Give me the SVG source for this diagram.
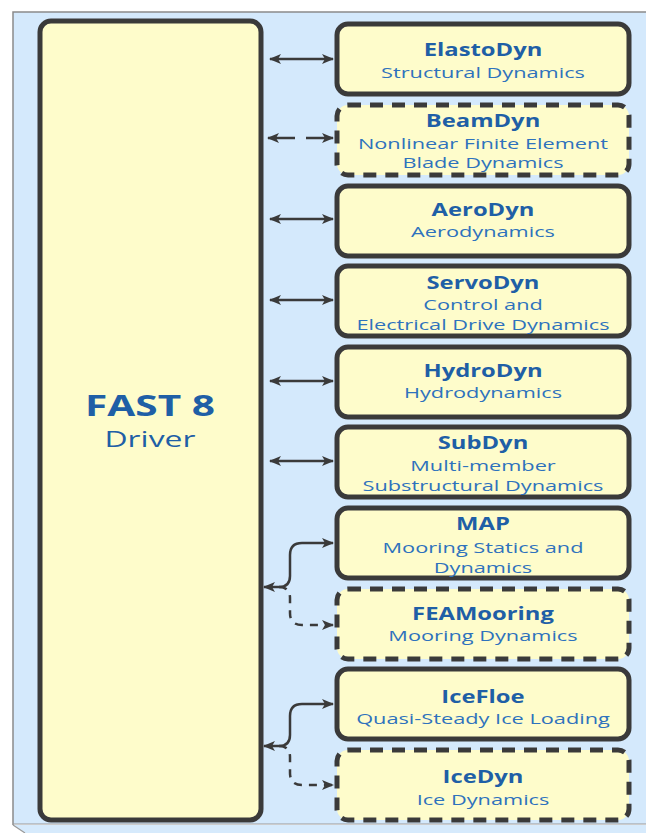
<svg xmlns="http://www.w3.org/2000/svg" width="646" height="833" viewBox="0 0 646 833">
<defs>
<style>
.box{fill:#fefccb;stroke:#3a3a3a;stroke-width:5}
.dash{stroke-dasharray:13 9}
.t{font-family:"Open Sans","Noto Sans",sans-serif;font-weight:bold;font-size:17px;fill:#1f5fa6;text-anchor:middle}
.s{font-family:"Open Sans","Noto Sans",sans-serif;font-size:14.5px;fill:#2e72bd;text-anchor:middle}
.c{fill:none;stroke:#3a3a3a;stroke-width:2.5}
.cd{stroke-dasharray:8 7}
</style>
<marker id="ah" viewBox="0 0 12 10" refX="11" refY="5" markerWidth="12" markerHeight="10" markerUnits="userSpaceOnUse" orient="auto-start-reverse">
<path d="M0,0 L12,5 L0,10 L3,5 z" fill="#3a3a3a"/>
</marker>
</defs>
<rect x="0" y="0" width="646" height="833" fill="#ffffff"/>
<g id="panel">
<polygon points="13,825 646,825 646,833 25,833" fill="#d6eafc"/>
<rect x="13" y="12" width="640" height="812" fill="#d4e9fc"/>
<path d="M13,825 V12 H646" fill="none" stroke="#8a8a8a" stroke-width="1.5"/>
<path d="M13,824 H646 M13,825 L25,833" fill="none" stroke="#9a9a9a" stroke-width="1.2"/>
</g>
<g id="fast">
<rect class="box" x="40" y="21" width="221" height="799" rx="11"/>
<g transform="translate(150,0) scale(1.45,1)">
<text x="0" y="416" font-family="'Open Sans','Noto Sans',sans-serif" font-weight="bold" font-size="28" fill="#1f5fa6" text-anchor="middle">FAST 8</text>
<text x="0" y="447" font-family="'Open Sans','Noto Sans',sans-serif" font-size="22" fill="#1f5fa6" text-anchor="middle">Driver</text>
</g>
</g>
<g id="elastodyn">
<rect class="box" x="337" y="24" width="292" height="70" rx="11"/>
<text class="t" transform="translate(483,0) scale(1.4,1)" x="0" y="56">ElastoDyn</text>
<text class="s" transform="translate(483,0) scale(1.5,1)" x="0" y="78">Structural Dynamics</text>
</g>
<g id="beamdyn">
<rect class="box dash" x="337" y="105" width="292" height="70" rx="11"/>
<text class="t" transform="translate(483,0) scale(1.4,1)" x="0" y="127">BeamDyn</text>
<text class="s" transform="translate(483,0) scale(1.5,1)" x="0" y="149">Nonlinear Finite Element</text>
<text class="s" transform="translate(483,0) scale(1.5,1)" x="0" y="168">Blade Dynamics</text>
</g>
<g id="aerodyn">
<rect class="box" x="337" y="186" width="292" height="70" rx="11"/>
<text class="t" transform="translate(483,0) scale(1.4,1)" x="0" y="216">AeroDyn</text>
<text class="s" transform="translate(483,0) scale(1.5,1)" x="0" y="237">Aerodynamics</text>
</g>
<g id="servodyn">
<rect class="box" x="337" y="266" width="292" height="70" rx="11"/>
<text class="t" transform="translate(483,0) scale(1.4,1)" x="0" y="289">ServoDyn</text>
<text class="s" transform="translate(483,0) scale(1.5,1)" x="0" y="310">Control and</text>
<text class="s" transform="translate(483,0) scale(1.5,1)" x="0" y="330">Electrical Drive Dynamics</text>
</g>
<g id="hydrodyn">
<rect class="box" x="337" y="347" width="292" height="70" rx="11"/>
<text class="t" transform="translate(483,0) scale(1.4,1)" x="0" y="377">HydroDyn</text>
<text class="s" transform="translate(483,0) scale(1.5,1)" x="0" y="398">Hydrodynamics</text>
</g>
<g id="subdyn">
<rect class="box" x="337" y="427" width="292" height="70" rx="11"/>
<text class="t" transform="translate(483,0) scale(1.4,1)" x="0" y="449">SubDyn</text>
<text class="s" transform="translate(483,0) scale(1.5,1)" x="0" y="471">Multi-member</text>
<text class="s" transform="translate(483,0) scale(1.5,1)" x="0" y="491">Substructural Dynamics</text>
</g>
<g id="map">
<rect class="box" x="337" y="508" width="292" height="70" rx="11"/>
<text class="t" transform="translate(483,0) scale(1.4,1)" x="0" y="530">MAP</text>
<text class="s" transform="translate(483,0) scale(1.5,1)" x="0" y="553">Mooring Statics and</text>
<text class="s" transform="translate(483,0) scale(1.5,1)" x="0" y="573">Dynamics</text>
</g>
<g id="feamooring">
<rect class="box dash" x="337" y="589" width="292" height="70" rx="11"/>
<text class="t" transform="translate(483,0) scale(1.4,1)" x="0" y="620">FEAMooring</text>
<text class="s" transform="translate(483,0) scale(1.5,1)" x="0" y="641">Mooring Dynamics</text>
</g>
<g id="icefloe">
<rect class="box" x="337" y="669" width="292" height="70" rx="11"/>
<text class="t" transform="translate(483,0) scale(1.4,1)" x="0" y="703">IceFloe</text>
<text class="s" transform="translate(483,0) scale(1.5,1)" x="0" y="724">Quasi-Steady Ice Loading</text>
</g>
<g id="icedyn">
<rect class="box dash" x="337" y="750" width="292" height="70" rx="11"/>
<text class="t" transform="translate(483,0) scale(1.4,1)" x="0" y="783">IceDyn</text>
<text class="s" transform="translate(483,0) scale(1.5,1)" x="0" y="805">Ice Dynamics</text>
</g>
<g id="connectors">
<line class="c" x1="270" y1="59" x2="333" y2="59" marker-start="url(#ah)" marker-end="url(#ah)"/>
<line class="c" x1="268" y1="138" x2="333" y2="138" marker-start="url(#ah)" marker-end="url(#ah)" stroke-dasharray="27 11 27"/>
<line class="c" x1="270" y1="219" x2="333" y2="219" marker-start="url(#ah)" marker-end="url(#ah)"/>
<line class="c" x1="270" y1="300" x2="333" y2="300" marker-start="url(#ah)" marker-end="url(#ah)"/>
<line class="c" x1="270" y1="381" x2="333" y2="381" marker-start="url(#ah)" marker-end="url(#ah)"/>
<line class="c" x1="270" y1="461" x2="333" y2="461" marker-start="url(#ah)" marker-end="url(#ah)"/>
<path class="c" d="M264,587 H279 Q290,587 290,576 V555 Q290,543 302,543 H333" marker-start="url(#ah)" marker-end="url(#ah)"/>
<path class="c cd" d="M279,587 Q290,587 290,598 V613 Q290,625 302,625 H333" marker-end="url(#ah)"/>
<path class="c" d="M264,746 H279 Q290,746 290,735 V716 Q290,704 302,704 H333" marker-start="url(#ah)" marker-end="url(#ah)"/>
<path class="c cd" d="M279,746 Q290,746 290,757 V773 Q290,785 302,785 H333" marker-end="url(#ah)"/>
</g>
</svg>
